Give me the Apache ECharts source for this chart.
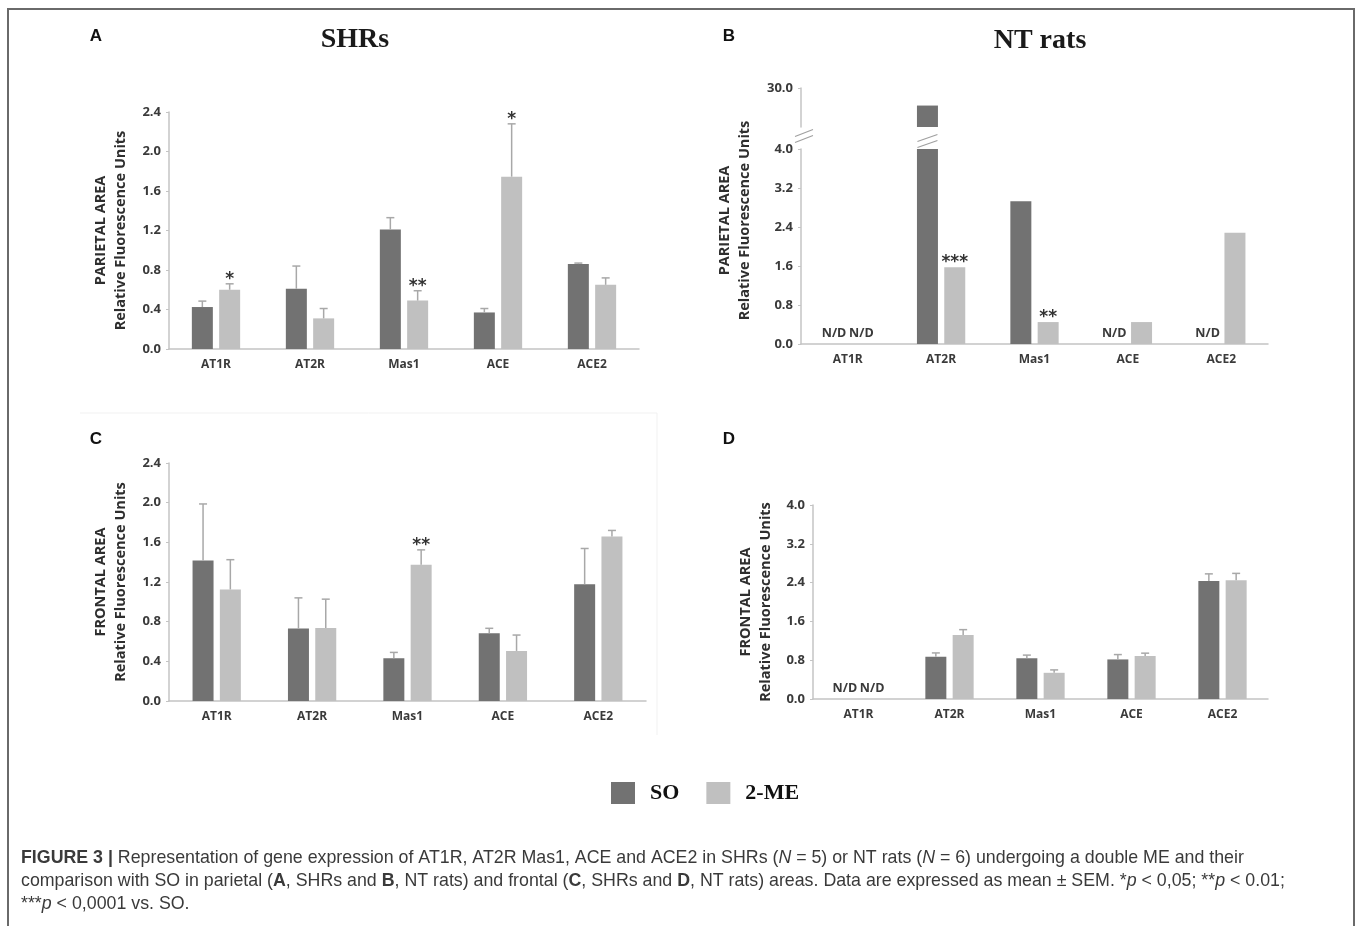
<!DOCTYPE html>
<html><head><meta charset="utf-8">
<script src="https://cdn.jsdelivr.net/npm/echarts@6/dist/echarts.min.js"></script>
<style>html,body{margin:0;padding:0;background:#fff}#c{width:1357px;height:926px}</style>
</head><body><div id="c"></div>
<script>
// ---------- data ----------
const categories = ['AT1R', 'AT2R', 'Mas1', 'ACE', 'ACE2'];
const seriesNames = ['SO', '2-ME'];
// A: parietal, SHRs
const parShrSO = [0.425, 0.61, 1.21, 0.37, 0.86];
const parShrSOsem = [0.06, 0.23, 0.12, 0.04, 0.01];
const parShrME = [0.60, 0.31, 0.49, 1.745, 0.65];
const parShrMEsem = [0.06, 0.10, 0.10, 0.535, 0.07];
const parShrStars = ['*', '', '**', '*', ''];
// B: parietal, NT rats (null = N/D)
const parNtSO = [null, 25.5, 2.93, null, null];
const parNtME = [null, 1.575, 0.45, 0.45, 2.28];
const parNtStars = ['', '***', '**', '', ''];
// C: frontal, SHRs
const froShrSO = [1.417, 0.73, 0.43, 0.683, 1.178];
const froShrSOsem = [0.57, 0.31, 0.06, 0.05, 0.36];
const froShrME = [1.125, 0.737, 1.374, 0.505, 1.66];
const froShrMEsem = [0.30, 0.29, 0.15, 0.16, 0.06];
const froShrStars = ['', '', '**', '', ''];
// D: frontal, NT rats
const froNtSO = [null, 0.87, 0.84, 0.816, 2.435];
const froNtSOsem = [null, 0.08, 0.065, 0.10, 0.145];
const froNtME = [null, 1.32, 0.54, 0.885, 2.45];
const froNtMEsem = [null, 0.11, 0.06, 0.06, 0.14];
// axis ticks
const ticksSHR = { min: 0, max: 2.4, interval: 0.4 };
const ticksNT = { min: 0, max: 4, interval: 0.8 };
const ticksBreakTop = { min: 20, max: 30, interval: 10 };

// ---------- style ----------
const C_SO = '#727272', C_ME = '#c0c0c0', C_ERR = '#a8a8a8', C_TXT = '#3a3a3a';
const FONT = "'Open Sans', 'DejaVu Sans', sans-serif";
const BAR_W = 21, BAR_GAP = 0.3;
const OFFSET = (BAR_W * 2 + BAR_W * BAR_GAP) / 2 - BAR_W / 2;

const grids = [
  { left: 169, top: 112, width: 470, height: 237 },  // A
  { left: 801, top: 88, width: 467, height: 39 },    // B upper
  { left: 801, top: 149, width: 467, height: 195 },  // B lower
  { left: 169, top: 463, width: 477, height: 238 },  // C
  { left: 813, top: 505, width: 455, height: 194 }   // D
].map(g => Object.assign({ outerBoundsMode: 'none', containLabel: false }, g));

const nameStyle = { color: '#2e2e2e', fontFamily: FONT, fontWeight: 'bold', fontSize: 14.5, lineHeight: 20 };

function xAx(gi, show) {
  return {
    gridIndex: gi, type: 'category', data: categories, show: show !== false,
    axisLine: { lineStyle: { color: '#c4c4c4', width: 1.5 } },
    axisTick: { show: false },
    axisLabel: { color: C_TXT, fontFamily: FONT, fontWeight: 'bold', fontSize: 12, margin: 10 }
  };
}
function yAx(gi, t, name, extra) {
  return Object.assign({
    gridIndex: gi, type: 'value', min: t.min, max: t.max, interval: t.interval,
    splitLine: { show: false },
    axisLine: { show: true, lineStyle: { color: '#c4c4c4', width: 1.5 } },
    axisTick: { show: true, length: 3, lineStyle: { color: '#c4c4c4' } },
    axisLabel: { color: C_TXT, fontFamily: FONT, fontWeight: 'bold', fontSize: 13, margin: 8,
      formatter: v => v.toFixed(1) },
    name: name, nameLocation: 'middle', nameRotate: 90, nameGap: 38,
    nameTextStyle: nameStyle
  }, extra || {});
}

function barData(arr) {
  return arr.map(v => v == null
    ? { value: 0, label: { show: true, formatter: 'N/D', position: 'top', distance: 4,
        color: C_TXT, fontFamily: FONT, fontWeight: 'bold', fontSize: 12.5 } }
    : v);
}
function bar(gi, name, arr, color) {
  return { type: 'bar', name: name, xAxisIndex: gi, yAxisIndex: gi, data: barData(arr),
    barWidth: BAR_W, barGap: (BAR_GAP * 100) + '%', itemStyle: { color: color }, z: 2 };
}
function errSeries(gi, means, sems, stars, side) {
  return {
    type: 'custom', xAxisIndex: gi, yAxisIndex: gi, silent: true, z: 5,
    data: means.map((m, i) => [i, m == null ? 0 : m]),
    renderItem: function (params, api) {
      const i = params.dataIndex;
      const m = means[i];
      if (m == null) return;
      const base = api.coord([i, m]);
      const x = base[0] + side * OFFSET;
      let topY = base[1];
      const children = [];
      if (sems && sems[i]) {
        topY = api.coord([i, m + sems[i]])[1];
        children.push({ type: 'line', shape: { x1: x, y1: base[1], x2: x, y2: topY },
          style: { stroke: C_ERR, lineWidth: 1.5 } });
        children.push({ type: 'line', shape: { x1: x - 4, y1: topY, x2: x + 4, y2: topY },
          style: { stroke: C_ERR, lineWidth: 1.5 } });
      }
      if (stars && stars[i]) {
        children.push({ type: 'text', x: x, y: topY + 4,
          style: { text: stars[i], textAlign: 'center', textVerticalAlign: 'bottom',
            font: "bold 17px 'DejaVu Sans', sans-serif", fill: '#333' } });
      }
      return { type: 'group', children: children };
    }
  };
}
function breakMarks(cx, cy, w) {
  const h = 7;
  return [0, 6].map(d => ({ type: 'line',
    shape: { x1: cx - w / 2, y1: cy + h / 2 + d, x2: cx + w / 2, y2: cy - h / 2 + d },
    style: { stroke: '#a0a0a0', lineWidth: 1.2 } }));
}
const breakSeries = {
  type: 'custom', xAxisIndex: 2, yAxisIndex: 2, silent: true, z: 6,
  data: parNtSO.map((v, i) => [i, v == null ? 0 : v]),
  renderItem: function (params, api) {
    const i = params.dataIndex;
    const cs = params.coordSys;
    let children = [];
    if (i === 0) children = children.concat(breakMarks(cs.x + 3, cs.y - 16, 18));
    const v = parNtSO[i];
    if (v != null && v > ticksNT.max) {
      const p = api.coord([i, ticksNT.max]);
      children = children.concat(breakMarks(p[0] - OFFSET, p[1] - 11, 20));
    }
    return { type: 'group', children: children };
  }
};

const upperSO = parNtSO.map(v => (v != null && v > ticksNT.max) ? v : null);
const upperME = parNtME.map(v => (v != null && v > ticksNT.max) ? v : null);

const CAP_FONT = "'Liberation Sans', Arial, sans-serif", CAP_SIZE = 17.8;
const captionStyle = {
  fontSize: CAP_SIZE, fontFamily: CAP_FONT, fill: '#3a3a3a',
  rich: {
    b: { fontWeight: 'bold', fontSize: CAP_SIZE, fontFamily: CAP_FONT, fill: '#3a3a3a' },
    i: { fontStyle: 'italic', fontSize: CAP_SIZE, fontFamily: CAP_FONT, fill: '#3a3a3a' }
  }
};
const captionLines = [
  '{b|FIGURE 3 |} Representation of gene expression of AT1R, AT2R Mas1, ACE and ACE2 in SHRs ({i|N} = 5) or NT rats ({i|N} = 6) undergoing a double ME and their',
  'comparison with SO in parietal ({b|A}, SHRs and {b|B}, NT rats) and frontal ({b|C}, SHRs and {b|D}, NT rats) areas. Data are expressed as mean ± SEM. *{i|p} < 0,05; **{i|p} < 0.01;',
  '***{i|p} < 0,0001 vs. SO.'
];

const letter = (t, x, y) => ({ type: 'text', x: x, y: y,
  style: { text: t, textAlign: 'center', textVerticalAlign: 'middle',
    font: "bold 17px 'Liberation Sans', Arial, sans-serif", fill: '#111' } });
const title = (t, x, y) => ({ type: 'text', x: x, y: y,
  style: { text: t, textAlign: 'center', textVerticalAlign: 'middle',
    font: "bold 28px 'Liberation Serif', 'Times New Roman', serif", fill: '#1a1a1a' } });

const option = {
  animation: false,
  backgroundColor: '#fff',
  grid: grids,
  xAxis: [xAx(0), xAx(1, false), xAx(2), xAx(3), xAx(4)],
  yAxis: [
    yAx(0, ticksSHR, 'PARIETAL AREA\nRelative Fluorescence Units'),
    yAx(1, ticksBreakTop, '', { axisLabel: { color: C_TXT, fontFamily: FONT, fontWeight: 'bold', fontSize: 13,
      margin: 8, showMinLabel: false, formatter: v => v.toFixed(1) } }),
    yAx(2, ticksNT, 'PARIETAL AREA\nRelative Fluorescence Units', { nameGap: 46,
      nameTextStyle: Object.assign({}, nameStyle, { padding: [0, 0, 0, 52] }) }),
    yAx(3, ticksSHR, 'FRONTAL AREA\nRelative Fluorescence Units'),
    yAx(4, ticksNT, 'FRONTAL AREA\nRelative Fluorescence Units', { nameGap: 37 })
  ],
  legend: {
    data: seriesNames, left: 611, top: 782, padding: 0,
    icon: 'rect', itemWidth: 24, itemHeight: 22, itemGap: 27,
    textStyle: { fontFamily: "'Liberation Serif', 'Times New Roman', serif", fontWeight: 'bold',
      fontSize: 22, color: '#111', padding: [0, 0, 0, 10] }
  },
  series: [
    // A
    bar(0, seriesNames[0], parShrSO, C_SO), bar(0, seriesNames[1], parShrME, C_ME),
    errSeries(0, parShrSO, parShrSOsem, null, -1), errSeries(0, parShrME, parShrMEsem, parShrStars, 1),
    // B upper (broken part)
    bar(1, seriesNames[0], upperSO, C_SO), bar(1, seriesNames[1], upperME, C_ME),
    // B lower
    bar(2, seriesNames[0], parNtSO, C_SO), bar(2, seriesNames[1], parNtME, C_ME),
    errSeries(2, parNtME, null, parNtStars, 1), breakSeries,
    // C
    bar(3, seriesNames[0], froShrSO, C_SO), bar(3, seriesNames[1], froShrME, C_ME),
    errSeries(3, froShrSO, froShrSOsem, null, -1), errSeries(3, froShrME, froShrMEsem, froShrStars, 1),
    // D
    bar(4, seriesNames[0], froNtSO, C_SO), bar(4, seriesNames[1], froNtME, C_ME),
    errSeries(4, froNtSO, froNtSOsem, null, -1), errSeries(4, froNtME, froNtMEsem, null, 1)
  ],
  graphic: [
    { type: 'polyline', shape: { points: [[8, 926], [8, 9], [1354, 9], [1354, 926]] },
      style: { stroke: '#6a6a6a', lineWidth: 2, fill: null }, silent: true },
    { type: 'polyline', shape: { points: [[80, 413], [657, 413], [657, 735]] },
      style: { stroke: '#f1f1f1', lineWidth: 1, fill: null }, silent: true },
    letter('A', 96, 36), letter('B', 729, 36), letter('C', 96, 439), letter('D', 729, 439),
    title('SHRs', 355, 40), title('NT rats', 1040, 41)
  ].concat(captionLines.map((t, k) => ({
    type: 'text', x: 21, y: 858 + k * 23,
    style: Object.assign({ text: t, textAlign: 'left', textVerticalAlign: 'middle' }, captionStyle)
  })))
};

const chart = echarts.init(document.getElementById('c'), null, { renderer: 'canvas' });
chart.setOption(option);
</script></body></html>
